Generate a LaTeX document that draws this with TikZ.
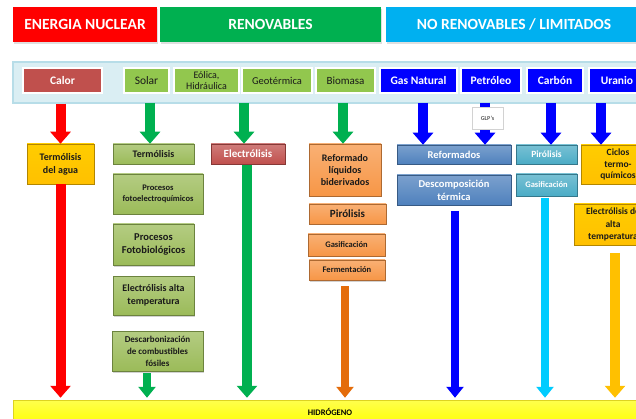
\documentclass[tikz,border=0pt]{standalone}
\usepackage{fontspec}
\setmainfont{Carlito}
\usetikzlibrary{arrows.meta,shadows,calc}
\definecolor{hred}{HTML}{FF0000}
\definecolor{hgreen}{HTML}{00B050}
\definecolor{hcyan}{HTML}{00B0F0}
\definecolor{bandfill}{HTML}{DAEEF3}
\definecolor{bandline}{HTML}{B7DDE8}
\definecolor{brick}{HTML}{C0504D}
\definecolor{olive}{HTML}{9BBB59}
\definecolor{lgreen}{HTML}{92C74E}
\definecolor{pureblue}{HTML}{0000FF}
\definecolor{gold}{HTML}{FFC000}
\definecolor{orng}{HTML}{F79646}
\definecolor{darkorng}{HTML}{E46C0A}
\definecolor{steel}{HTML}{4F81BD}
\definecolor{aqua}{HTML}{4BACC6}
\definecolor{skyc}{HTML}{00CCFF}
\definecolor{txt}{HTML}{1A1A1A}
\newcommand\bx[7]{\node[#6, minimum width={#4-#2}, minimum height={#5-#3}] (#1) at ({(#2+#4)/2},{(#3+#5)/2}) {#7};}
\begin{document}
\begin{tikzpicture}[x=1pt,y=-1pt,
  base/.style={inner sep=1pt, align=center, text=txt},
  header/.style={base, fill=#1, text=white, font=\fontsize{15.5}{17}\selectfont\bfseries,
     drop shadow={opacity=0.25, shadow xshift=1pt, shadow yshift=-2pt}},
  btn/.style={base, draw=white, line width=1.2pt, fill=#1, font=\fontsize{10.5}{11}\selectfont,
     drop shadow={opacity=0.3, shadow xshift=1pt, shadow yshift=-1.5pt}},
  bbtn/.style={btn=#1, text=white, font=\fontsize{11.5}{12}\selectfont\bfseries},
  proc/.style={base, draw=#1!70!black, line width=0.5pt, top color=#1!75!white, bottom color=#1,
     font=\fontsize{9.5}{11}\selectfont\bfseries,
     drop shadow={opacity=0.35, shadow xshift=1pt, shadow yshift=-1.5pt}},
  ar/.style={draw=#1, line width=10pt, -{Triangle[width=20pt,length=12pt]}},
  arn/.style={draw=#1, line width=8pt, -{Triangle[width=17pt,length=11pt]}}
]
\useasboundingbox (0,0) rectangle (636,419);
\clip (0,0) rectangle (636,419);
\fill[white] (0,0) rectangle (636,419);

% headers
\bx{hnuc}{13}{7}{157}{42}{header=hred}{ENERGIA NUCLEAR}
\bx{hren}{160}{7}{381}{42}{header=hgreen}{RENOVABLES}
\bx{hno}{386}{7}{642}{42}{header=hcyan}{NO RENOVABLES / LIMITADOS}

% band
\bx{band}{13}{62}{642}{103}{base, fill=bandfill, draw=bandline, line width=1.5pt}{}

% sources
\bx{calor}{23}{68}{102}{93}{bbtn=brick}{Calor}
\bx{solar}{124}{68}{169}{93}{btn=lgreen, font=\fontsize{11.5}{12}\selectfont}{Solar}
\bx{eolica}{174}{68}{239}{93}{btn=lgreen, font=\fontsize{10}{10.5}\selectfont}{Eólica,\\Hidráulica}
\bx{geo}{242}{68}{312}{93}{btn=lgreen}{Geotérmica}
\bx{bio}{316}{68}{375}{93}{btn=lgreen, font=\fontsize{11}{12}\selectfont}{Biomasa}
\bx{gas}{380}{68}{457}{93}{bbtn=pureblue}{Gas Natural}
\bx{petro}{461}{68}{521}{93}{bbtn=pureblue}{Petróleo}
\bx{carbon}{527}{68}{583}{93}{bbtn=pureblue}{Carbón}
\bx{uranio}{589}{68}{645}{93}{bbtn=pureblue}{Uranio}

% processes
\bx{tda}{27}{144}{94}{184}{proc=gold, top color=gold!80!yellow, bottom color=gold, font=\fontsize{10}{13}\selectfont\bfseries}{Termólisis\\del agua}
\bx{termo}{113}{144}{194}{164}{proc=olive, font=\fontsize{10}{11}\selectfont\bfseries}{Termólisis}
\bx{foto}{113}{174}{203}{214}{proc=olive, font=\fontsize{8.5}{10.5}\selectfont\bfseries}{Procesos\\fotoelectroquímicos}
\bx{fotob}{113}{224}{194}{265}{proc=olive, font=\fontsize{10.5}{12.5}\selectfont\bfseries}{Procesos\\Fotobiológicos}
\bx{eat}{113}{276}{194}{315}{proc=olive, font=\fontsize{10}{12.5}\selectfont\bfseries}{Electrólisis alta\\temperatura}
\bx{desc}{112}{331}{203}{371}{proc=olive, font=\fontsize{9}{12}\selectfont\bfseries}{Descarbonización\\de combustibles\\fósiles}
\bx{elec}{211}{144}{285}{164}{proc=brick, text=white, font=\fontsize{11}{12}\selectfont\bfseries}{Electrólisis}
\bx{refl}{309}{144}{381}{196}{proc=orng, font=\fontsize{10}{12}\selectfont\bfseries}{Reformado\\líquidos\\biderivados}
\bx{piro}{309}{204}{386}{224}{proc=orng, font=\fontsize{11}{12}\selectfont\bfseries}{Pirólisis}
\bx{gasif}{308}{234}{385}{256}{proc=orng, font=\fontsize{8.5}{10}\selectfont\bfseries}{Gasificación}
\bx{ferm}{309}{260}{385}{280}{proc=orng, font=\fontsize{8.5}{10}\selectfont\bfseries}{Fermentación}
\bx{refs}{397}{145}{511}{164}{proc=steel, text=white, font=\fontsize{10.5}{11}\selectfont\bfseries}{Reformados}
\bx{dest}{397}{175}{511}{205}{proc=steel, text=white, font=\fontsize{10.5}{13}\selectfont\bfseries}{Descomposición\\térmica}
\bx{piro2}{516}{145}{577}{164}{proc=aqua, text=white, font=\fontsize{9.5}{11}\selectfont\bfseries}{Pirólisis}
\bx{gasif2}{516}{174}{577}{196}{proc=aqua, text=white, font=\fontsize{8.5}{11}\selectfont\bfseries}{Gasificación}
\bx{ciclos}{581}{145}{655}{184}{proc=gold, top color=gold!80!yellow, bottom color=gold, font=\fontsize{9.5}{11.5}\selectfont\bfseries}{Ciclos\\termo-\\químicos}
\bx{eat2}{574}{204}{652}{245}{proc=gold, top color=gold!80!yellow, bottom color=gold, font=\fontsize{9.5}{12.5}\selectfont\bfseries}{Electrólisis de\\alta\\temperatura}

% hydrogen bar
\bx{hidro}{13}{400}{650}{426}{base, top color=yellow!70!white, bottom color=yellow, draw=yellow!85!black, line width=0.5pt}{}
\node[font=\fontsize{8.5}{9}\selectfont\bfseries, text=black] (htxt) at (330,412) {HIDRÓGENO};

% top arrows
\coordinate (g1) at (150,103);
\coordinate (g2) at (244,103);
\coordinate (g3) at (343,103);
\coordinate (b1) at (423,103);
\coordinate (b2) at (485,103);
\coordinate (b3) at (551,103);
\coordinate (b4) at (601,103);
\draw[ar=hred] (band.south -| tda.north) -- (tda.north);
\draw[ar=hgreen] (g1) -- (g1 |- termo.north);
\draw[ar=hgreen] (g2) -- (g2 |- elec.north);
\draw[ar=hgreen] (g3) -- (g3 |- refl.north);
\draw[ar=pureblue] (b1) -- (b1 |- refs.north);
\draw[ar=pureblue] (b2) -- (b2 |- refs.north);
\draw[ar=pureblue] (b3) -- (b3 |- piro2.north);
\draw[ar=pureblue] (b4) -- (b4 |- ciclos.north);
\bx{glp}{472}{107}{503}{129}{base, fill=white, draw=gray!35, line width=0.5pt, font=\fontsize{6}{7}\selectfont\bfseries, text=gray!70!black}{GLP's}

% long arrows to hydrogen
\coordinate (l1) at (147,373);
\coordinate (l2) at (247,165);
\coordinate (l3) at (345,286);
\coordinate (l4) at (455,211);
\coordinate (l5) at (545,198);
\coordinate (l6) at (615,253);
\draw[ar=hred, shorten >=2pt] (tda.south) -- (tda.south |- hidro.north);
\draw[arn=hgreen, shorten >=2pt] (l1) -- (l1 |- hidro.north);
\draw[ar=hgreen, shorten >=2pt] (l2) -- (l2 |- hidro.north);
\draw[arn=darkorng, shorten >=2pt] (l3) -- (l3 |- hidro.north);
\draw[arn=pureblue, shorten >=2pt] (l4) -- (l4 |- hidro.north);
\draw[arn=skyc, shorten >=2pt] (l5) -- (l5 |- hidro.north);
\draw[ar=gold, shorten >=2pt] (l6) -- (l6 |- hidro.north);
\end{tikzpicture}
\end{document}
